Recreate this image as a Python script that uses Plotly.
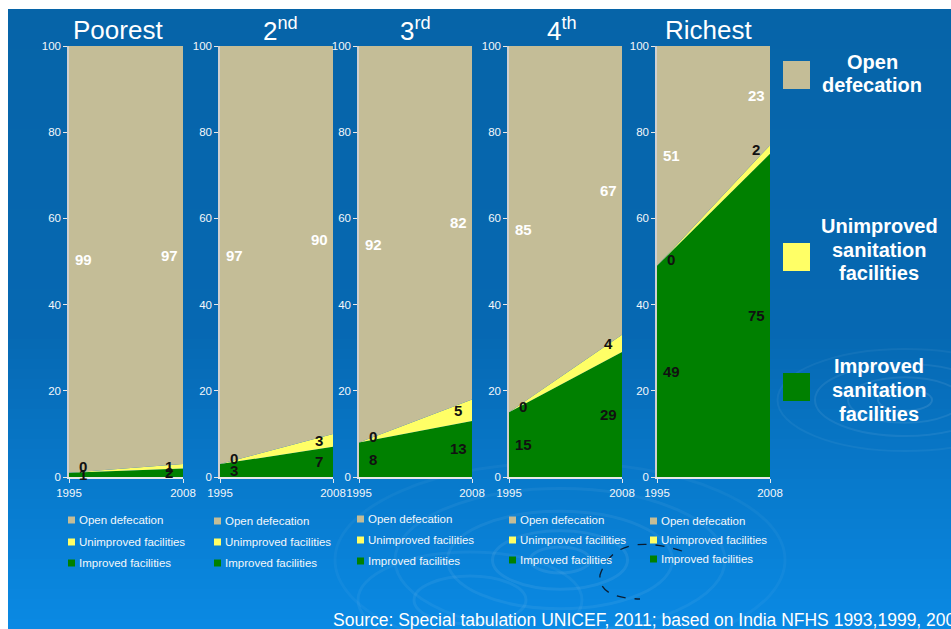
import plotly.graph_objects as go

# Sanitation by wealth quintile, India, 1995 vs 2008 (% of population)
years = [1995, 2008]
quintiles = ["Poorest", "2<sup>nd</sup>", "3<sup>rd</sup>", "4<sup>th</sup>", "Richest"]
improved = [[1, 2], [3, 7], [8, 13], [15, 29], [49, 75]]
unimproved = [[0, 1], [0, 3], [0, 5], [0, 4], [0, 2]]
open_defecation = [[99, 97], [97, 90], [92, 82], [85, 67], [51, 23]]

series_names = ["Improved facilities", "Unimproved facilities", "Open defecation"]
big_legend = [["Open", "defecation"],
              ["Unimproved", "sanitation", "facilities"],
              ["Improved", "sanitation", "facilities"]]
y_ticks = [0, 20, 40, 60, 80, 100]
source_text = "Source: Special tabulation UNICEF, 2011; based on India NFHS 1993,1999, 2006"

W, H = 951, 629
FONT = "Arial, Liberation Sans, sans-serif"
COL_OPEN = "#C4BD97"
COL_UNIMP = "#FFFF66"
COL_IMP = "#008000"

def px(x):
    return x / W

def py(y):
    return 1 - y / H

# panel placement in pixels
panels_x = [(69, 183), (220, 333), (359, 472), (509, 622), (657, 770)]
plot_top, plot_bottom = 46, 477
title_cx = [118, 280, 415, 562, 708]
legend_left = [68, 214, 357, 509, 650]
legend_rows = [[520, 542, 563], [521, 542, 563], [519, 540, 561], [520, 540, 560], [521, 540, 559]]

fig = go.Figure()
shapes = []
annotations = []

# blue background with vertical gradient
top_c = (6, 100, 168)
mid_c = (6, 104, 178)
bot_c = (10, 138, 228)
n_bands = 62
y0, y1 = 9, H
for k in range(n_bands):
    ya = y0 + (y1 - y0) * k / n_bands
    yb = y0 + (y1 - y0) * (k + 1) / n_bands
    yc = (ya + yb) / 2
    if yc < 330:
        t = (yc - y0) / (330 - y0)
        c = [top_c[j] + (mid_c[j] - top_c[j]) * t for j in range(3)]
    else:
        t = (yc - 330) / (H - 330)
        c = [mid_c[j] + (bot_c[j] - mid_c[j]) * t for j in range(3)]
    shapes.append(dict(type="rect", xref="paper", yref="paper", layer="below",
                       x0=px(8), x1=1, y0=py(yb + 0.5), y1=py(ya),
                       line=dict(width=0),
                       fillcolor="rgb(%d,%d,%d)" % tuple(int(round(v)) for v in c)))

# faint water ripples
def ring(cx, cy, rx, ry, alpha, width=2):
    shapes.append(dict(type="circle", xref="paper", yref="paper", layer="below",
                       x0=px(cx - rx), x1=px(cx + rx), y0=py(cy + ry), y1=py(cy - ry),
                       line=dict(color="rgba(255,255,255,%.2f)" % alpha, width=width)))

for r, a in [(18, 0.10), (38, 0.08), (60, 0.07), (85, 0.05)]:
    ring(905, 400, r * 1.5, r * 0.6, a)
for r, a in [(20, 0.08), (45, 0.07), (75, 0.06), (110, 0.05), (150, 0.04)]:
    ring(560, 560, r * 1.5, r * 0.65, a, 3)
for r, a in [(40, 0.06), (80, 0.05)]:
    ring(470, 600, r * 1.4, r * 0.6, a, 3)

# dashed dark arc
shapes.append(dict(type="path", xref="paper", yref="paper", layer="above",
                   path="M %f,%f Q %f,%f %f,%f Q %f,%f %f,%f" % (
                       px(682), py(551), px(615), py(530), px(600), py(575),
                       px(598), py(598), px(640), py(599)),
                   line=dict(color="rgba(10,10,20,0.85)", width=1.3, dash="dash")))

for i in range(5):
    xa = "x" if i == 0 else "x%d" % (i + 1)
    ya_ = "y" if i == 0 else "y%d" % (i + 1)
    grp = "stack%d" % i
    for name, vals, col in [(series_names[0], improved[i], COL_IMP),
                            (series_names[1], unimproved[i], COL_UNIMP),
                            (series_names[2], open_defecation[i], COL_OPEN)]:
        fig.add_trace(go.Scatter(x=years, y=vals, name=name, mode="none",
                                 stackgroup=grp, fillcolor=col,
                                 xaxis=xa, yaxis=ya_, showlegend=False,
                                 hoverinfo="skip"))

    x0p, x1p = panels_x[i]
    layout_axis = dict(
        domain=[px(x0p), px(x1p)], range=[years[0], years[1]],
        tickvals=years, ticktext=[str(y) for y in years],
        ticks="outside", ticklen=4, tickcolor="#E8E8E8",
        showline=True, linecolor="#E8E8E8", linewidth=1.5,
        showgrid=False, zeroline=False, fixedrange=True, automargin=False,
        tickfont=dict(family=FONT, size=11.5, color="#F4F7FA"),
        anchor=ya_,
    )
    layout_yaxis = dict(
        domain=[py(plot_bottom), py(plot_top)], range=[0, 100],
        tickvals=y_ticks, ticks="outside", ticklen=4, tickcolor="#E8E8E8",
        showline=True, linecolor="#D0D0D0", linewidth=1.5,
        showgrid=False, zeroline=False, fixedrange=True, automargin=False,
        tickfont=dict(family=FONT, size=11.5, color="#F4F7FA"),
        anchor=xa,
    )
    key = "" if i == 0 else str(i + 1)
    fig.update_layout(**{"xaxis" + key: layout_axis, "yaxis" + key: layout_yaxis})

    # panel title
    annotations.append(dict(xref="paper", yref="paper", x=px(title_cx[i]), y=py(30),
                            text=quintiles[i], showarrow=False, xanchor="center",
                            yanchor="middle",
                            font=dict(family=FONT, size=26, color="white")))

    # value labels at mid-segment
    for j, yr in enumerate(years):
        base = 0
        for vals, color in [(improved[i], "#111111"), (unimproved[i], "#111111"),
                            (open_defecation[i], "white")]:
            v = vals[j]
            annotations.append(dict(
                xref=xa, yref=ya_, x=yr, y=base + v / 2,
                xshift=14 if j == 0 else -14, yshift=6 if v == 0 else 0,
                text="<b>%d</b>" % v, showarrow=False,
                font=dict(family=FONT, size=15, color=color)))
            base += v

    # small legend under each panel
    for row, (label, col) in enumerate([(series_names[2], COL_OPEN),
                                        (series_names[1], COL_UNIMP),
                                        (series_names[0], COL_IMP)]):
        ry = legend_rows[i][row]
        lx = legend_left[i]
        shapes.append(dict(type="rect", xref="paper", yref="paper",
                           x0=px(lx), x1=px(lx + 7), y0=py(ry + 3.5), y1=py(ry - 3.5),
                           line=dict(width=0), fillcolor=col))
        annotations.append(dict(xref="paper", yref="paper", x=px(lx + 9), y=py(ry),
                                text=label, showarrow=False, xanchor="left",
                                yanchor="middle",
                                font=dict(family=FONT, size=11.5, color="#F4F7FA")))

# large legend on the right
swatches = [(61, COL_OPEN), (243, COL_UNIMP), (373, COL_IMP)]
line_y = [[62, 85], [226, 250, 273], [366, 390, 414]]
line_cx = [872, 879, 879]
for k, (sy, col) in enumerate(swatches):
    shapes.append(dict(type="rect", xref="paper", yref="paper",
                       x0=px(783), x1=px(810), y0=py(sy + 28), y1=py(sy),
                       line=dict(width=0), fillcolor=col))
    for txt, ly in zip(big_legend[k], line_y[k]):
        annotations.append(dict(xref="paper", yref="paper", x=px(line_cx[k]), y=py(ly),
                                text="<b>%s</b>" % txt, showarrow=False,
                                xanchor="center", yanchor="middle",
                                font=dict(family=FONT, size=20, color="white")))

annotations.append(dict(xref="paper", yref="paper", x=px(331), y=py(620),
                        text=source_text, showarrow=False, xanchor="left",
                        yanchor="middle",
                        font=dict(family=FONT, size=17.5, color="white")))

fig.update_layout(
    width=W, height=H,
    margin=dict(l=0, r=0, t=0, b=0, pad=0, autoexpand=False),
    paper_bgcolor="white", plot_bgcolor="rgba(0,0,0,0)",
    shapes=shapes, annotations=annotations, showlegend=False,
)

fig.write_html("out.html", config={"displayModeBar": False})
